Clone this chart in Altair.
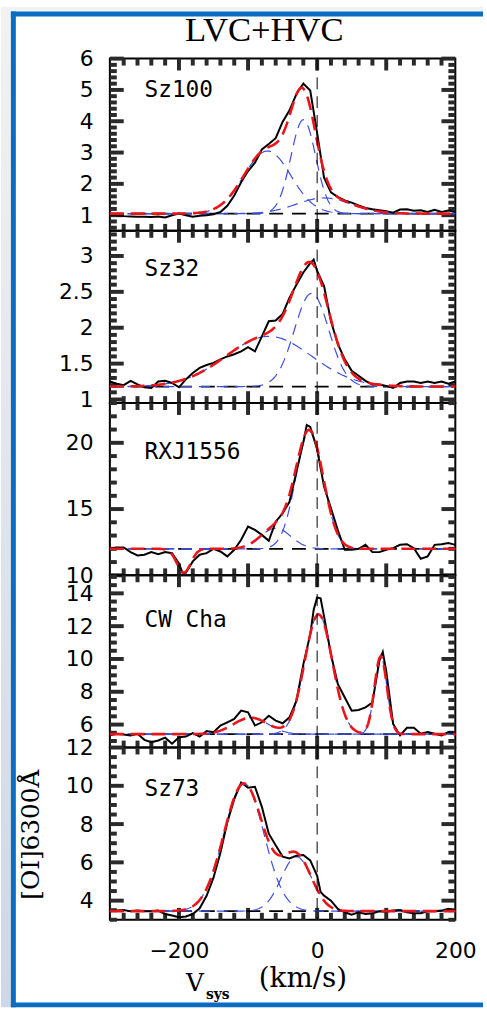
import altair as alt
import numpy as np
import pandas as pd

# ---------------- data ----------------
TITLE = "LVC+HVC"
NAMES = ["Sz100", "Sz32", "RXJ1556", "CW Cha", "Sz73"]
X_TITLE_MAIN = "V"
X_TITLE_SUB = "sys"
X_TITLE_UNIT = "(km/s)"
Y_TITLE = "[OI]6300Å"

X_DOMAIN = [-300, 200]
X_LABELS = [-200, 0, 200]
X_MAJOR = [-200, -100, 0, 100]
X_MINOR = [-280, -260, -240, -220, -180, -160, -140, -120, -80, -60, -40, -20,
           20, 40, 60, 80, 120, 140, 160, 180]

Y_DOMAINS = [[0.5, 6], [0.95, 3.35], [10, 23], [4.6, 15.1], [3, 12]]
Y_MAJOR = [[1, 2, 3, 4, 5, 6], [1, 1.5, 2, 2.5, 3], [10, 15, 20],
           [6, 8, 10, 12, 14], [4, 6, 8, 10, 12]]
Y_MINOR_STEP = [0.2, 0.1, 1, 0.5, 0.5]

SZ100_V = [-300, -290, -280, -270, -260, -250, -240, -230, -220, -210, -200, -190, -180,
           -170, -160, -150, -140, -130, -120, -110, -100, -90, -80, -70, -60, -50, -40,
           -30, -20, -10, 0, 10, 20, 30, 40, 50, 60, 70, 80, 90, 100, 110, 120, 130, 140,
           150, 160, 170, 180, 190, 200]
SZ100_F = [1.03, 1.00, 0.97, 0.96, 0.95, 0.95, 0.94, 0.96, 0.93, 1.00, 1.05, 1.00, 0.95,
           0.98, 1.00, 1.03, 1.10, 1.30, 1.63, 2.05, 2.41, 2.68, 3.10, 3.27, 3.46, 3.98, 4.35,
           4.87, 5.20, 4.98, 3.62, 2.20, 1.73, 1.58, 1.47, 1.40, 1.31, 1.23, 1.19, 1.16, 1.13,
           1.08, 1.18, 1.19, 1.14, 1.16, 1.10, 1.17, 1.10, 1.15, 1.10]

SZ32_V = [-300, -290, -280, -270, -260, -250, -240, -230, -220, -210, -200, -190, -180,
          -170, -160, -150, -140, -130, -120, -110, -100, -90, -80, -70, -60, -50, -40,
          -30, -20, -10, -5, 0, 10, 20, 30, 40, 50, 60, 70, 80, 90, 100, 110, 120, 130, 140,
          150, 160, 170, 180, 190, 200]
SZ32_F = [1.25, 1.22, 1.20, 1.26, 1.21, 1.17, 1.16, 1.25, 1.26, 1.23, 1.17, 1.28, 1.37,
          1.44, 1.48, 1.51, 1.56, 1.60, 1.63, 1.67, 1.73, 1.67, 1.88, 2.09, 2.10, 2.19, 2.42,
          2.60, 2.77, 2.90, 2.95, 2.79, 2.58, 2.09, 1.77, 1.56, 1.40, 1.33, 1.26, 1.21, 1.21,
          1.19, 1.16, 1.23, 1.25, 1.25, 1.23, 1.25, 1.23, 1.25, 1.22, 1.25]

RXJ_V = [-300, -290, -280, -270, -260, -250, -240, -230, -220, -210, -200, -195, -190,
         -180, -170, -160, -150, -140, -130, -120, -110, -100, -90, -80, -70, -60, -50,
         -40, -30, -20, -15, -10, 0, 10, 20, 30, 40, 50, 60, 70, 80, 90, 100, 110, 120, 130,
         140, 150, 160, 170, 180, 190, 200]
RXJ_F = [12.0, 12.1, 12.1, 11.75, 11.5, 11.55, 11.75, 11.6, 11.75, 11.67, 10.9, 10.2, 10.2,
         11.05, 11.55, 11.67, 12.0, 11.8, 11.43, 11.93, 12.68, 13.68, 13.43, 13.05, 12.6,
         14.05, 14.68, 15.55, 17.8, 20.05, 21.35, 21.2, 19.5, 16.7, 15.05, 13.4, 11.93,
         11.93, 12.0, 12.3, 11.75, 11.75, 11.93, 12.05, 12.3, 12.35, 12.05, 11.25, 11.43,
         12.3, 12.35, 12.43, 12.3]

CW_V = [-300, -290, -280, -270, -260, -250, -240, -230, -220, -210, -200, -190, -180,
        -170, -160, -150, -140, -130, -120, -110, -100, -90, -80, -70, -60, -50, -40,
        -30, -20, -10, -5, 0, 5, 10, 20, 30, 40, 50, 60, 70, 80, 90, 95, 100, 110, 120, 130,
        140, 150, 160, 170, 180, 190, 200]
CW_F = [5.34, 5.44, 5.40, 5.34, 5.44, 5.07, 4.93, 5.03, 5.20, 4.83, 5.23, 5.27, 5.48,
        5.27, 5.60, 5.54, 5.94, 6.14, 6.34, 6.85, 6.75, 5.94, 6.14, 6.54, 6.24, 6.08, 6.44,
        7.45, 9.67, 11.5, 13.0, 13.75, 13.7, 12.6, 10.27, 8.46, 7.65, 6.85, 6.89, 7.05, 7.35,
        9.87, 10.43, 9.26, 6.04, 5.34, 5.80, 5.80, 5.44, 5.54, 5.44, 5.34, 5.54, 5.48]

SZ73_V = [-300, -290, -280, -270, -260, -250, -240, -230, -220, -210, -200, -190, -180,
          -170, -160, -150, -140, -130, -120, -110, -100, -90, -80, -70, -60, -50, -40,
          -30, -20, -10, 0, 5, 10, 20, 30, 40, 50, 60, 70, 80, 90, 100, 110, 120, 130, 140,
          150, 160, 170, 180, 190, 200]
SZ73_F = [3.44, 3.48, 3.51, 3.44, 3.48, 3.44, 3.44, 3.48, 3.30, 3.22, 3.13, 3.17, 3.30,
          3.60, 4.25, 5.20, 6.50, 8.10, 9.30, 10.17, 9.90, 9.95, 8.90, 7.50, 6.90, 6.30, 6.20,
          6.35, 6.38, 6.10, 5.30, 4.45, 4.26, 4.00, 3.57, 3.39, 3.27, 3.39, 3.30, 3.34, 3.44,
          3.42, 3.48, 3.51, 3.39, 3.34, 3.34, 3.44, 3.44, 3.48, 3.57, 3.48]

SPEC_V = [SZ100_V, SZ32_V, RXJ_V, CW_V, SZ73_V]
SPEC_F = [SZ100_F, SZ32_F, RXJ_F, CW_F, SZ73_F]

# Gaussian fit components: (centre, amplitude, sigma)
CONTINUUM = [1.05, 1.18, 12.0, 5.42, 3.45]
COMPONENTS = [
    [(-72, 2.0, 34), (-20, 3.0, 18), (10, 0.5, 40)],
    [(-70, 0.7, 62), (-8, 1.3, 25)],
    [(-11, 8.85, 20), (-60, 1.55, 22)],
    [(2, 7.3, 20), (92, 4.75, 9), (-96, 1.0, 25)],
    [(-106, 6.67, 29), (-30, 2.85, 22)],
]
ABSORPTION = [[], [], [(-193, -1.8, 10)], [], []]

# ---------------- styling ----------------
W, H = 349, 174
RED = "#e8161b"
BLUE = "#3c4fe0"
FRAME_BLUE = "#0b6cc4"
TICK_COLOR = "#2a2a2a"
NAME_Y = [31.5, 39, 49, 45, 42]
LABEL_FONT = "DejaVu Sans"
X_TICK_LEN = (12, 7)   # px, major / minor
Y_TICK_LEN = (14, 7)

VF = np.arange(-300, 201, 2)


def gauss(v, c, a, s):
    return a * np.exp(-0.5 * ((v - c) / s) ** 2)


def minor_ticks(dom, step, majors):
    start = np.ceil(dom[0] / step - 1e-9) * step
    vals = np.arange(start, dom[1] + 1e-9, step)
    out = []
    for v in vals:
        v = round(float(v), 4)
        if all(abs(v - m) > 1e-6 for m in majors):
            out.append(v)
    return out


def tick_segments(i):
    """Inward tick segments on all four sides, as (x, y, id) rows in data units."""
    y0, y1 = Y_DOMAINS[i]
    x0, x1 = X_DOMAIN
    ypp = (y1 - y0) / H   # data units per pixel
    xpp = (x1 - x0) / W
    rows = []
    n = 0
    for vals, L in [(X_MAJOR, X_TICK_LEN[0]), (X_MINOR, X_TICK_LEN[1])]:
        for t in vals:
            rows += [(float(t), float(y1), n), (float(t), float(y1 - L * ypp), n)]
            n += 1
            rows += [(float(t), float(y0), n), (float(t), float(y0 + L * ypp), n)]
            n += 1
    ymin = minor_ticks(Y_DOMAINS[i], Y_MINOR_STEP[i], Y_MAJOR[i])
    for vals, L in [(Y_MAJOR[i], Y_TICK_LEN[0]), (ymin, Y_TICK_LEN[1])]:
        for t in vals:
            rows += [(float(x0), float(t), n), (float(x0 + L * xpp), float(t), n)]
            n += 1
            rows += [(float(x1), float(t), n), (float(x1 - L * xpp), float(t), n)]
            n += 1
    return pd.DataFrame(rows, columns=["tx", "ty", "tid"])


def make_panel(i):
    first = i == 0
    last = i == 4
    xs = alt.Scale(domain=X_DOMAIN, nice=False, zero=False)
    ys = alt.Scale(domain=Y_DOMAINS[i], nice=False, zero=False)
    if last:
        xaxis = alt.Axis(values=X_LABELS, ticks=False, domain=False, grid=False,
                         labelFlush=False, labelFont=LABEL_FONT, labelFontSize=22,
                         labelPadding=21, labelColor="black", title=None)
    else:
        xaxis = None
    yaxis = alt.Axis(values=Y_MAJOR[i], format="~g", ticks=False, domain=False, grid=False,
                     labelFont=LABEL_FONT, labelFontSize=22, labelPadding=17,
                     labelColor="black", title=None)

    def X(f):
        return alt.X(f"{f}:Q", scale=xs, axis=xaxis)

    def Y(f):
        return alt.Y(f"{f}:Q", scale=ys, axis=yaxis)

    cont = CONTINUUM[i]
    obs = pd.DataFrame({"v": SPEC_V[i], "f": SPEC_F[i]})
    total = np.full(VF.shape, cont, dtype=float)
    rows = []
    for k, (c, a, s) in enumerate(COMPONENTS[i]):
        g = gauss(VF, c, a, s)
        total = total + g
        rows.append(pd.DataFrame({"v": VF, "f": cont + g, "k": k}))
    for (c, a, s) in ABSORPTION[i]:
        total = total + gauss(VF, c, a, s)
    comp_df = pd.concat(rows, ignore_index=True)
    tot_df = pd.DataFrame({"v": VF, "f": total})
    cont_df = pd.DataFrame({"v": X_DOMAIN, "f": [cont, cont]})
    zero_df = pd.DataFrame({"v": [0]})
    one = pd.DataFrame({"a": [0]})

    layers = []
    if first:
        grad = alt.LinearGradient(gradient="linear",
                                  stops=[alt.GradientStop(color="#f2f2f2", offset=0),
                                         alt.GradientStop(color="#cdd7e6", offset=1)],
                                  x1=0, x2=0, y1=0, y2=1)
        layers += [
            alt.Chart(one).mark_rect(fill=grad).encode(
                x=alt.value(-110), x2=alt.value(-100), y=alt.value(-52.5), y2=alt.value(958.5)),
            alt.Chart(one).mark_rect(fill="#f2f2f2").encode(
                x=alt.value(-110), x2=alt.value(377), y=alt.value(-52.5), y2=alt.value(-47.5)),
            alt.Chart(one).mark_rule(color=FRAME_BLUE, strokeWidth=5).encode(
                x=alt.value(-97.5), y=alt.value(-47.5), y2=alt.value(958.5)),
            alt.Chart(one).mark_rule(color=FRAME_BLUE, strokeWidth=5).encode(
                x=alt.value(-100), x2=alt.value(377), y=alt.value(-45)),
            alt.Chart(one).mark_rule(color=FRAME_BLUE, strokeWidth=5).encode(
                x=alt.value(-100), x2=alt.value(377), y=alt.value(956)),
            alt.Chart(pd.DataFrame({"ttl": [TITLE]})).mark_text(
                align="center", baseline="middle", font="Liberation Serif", fontSize=35,
                color="black").encode(x=alt.value(156), y=alt.value(-29), text="ttl:N"),
        ]

    layers += [
        alt.Chart(tick_segments(i)).mark_line(color=TICK_COLOR, strokeWidth=4).encode(
            x=X("tx"), y=Y("ty"), detail="tid:N"),
        alt.Chart(cont_df).mark_line(color="black", strokeDash=[14, 9], strokeWidth=1.8).encode(
            x=X("v"), y=Y("f")),
        alt.Chart(comp_df).mark_line(color=BLUE, strokeDash=[11, 7], strokeWidth=1.2).encode(
            x=X("v"), y=Y("f"), detail="k:N"),
        alt.Chart(obs).mark_line(color="black", strokeWidth=2).encode(x=X("v"), y=Y("f")),
        alt.Chart(tot_df).mark_line(color=RED, strokeDash=[14, 7], strokeWidth=2.6).encode(
            x=X("v"), y=Y("f")),
        alt.Chart(zero_df).mark_rule(color="black", strokeDash=[12, 7], strokeWidth=1).encode(
            x=X("v")),
    ]

    layers.append(alt.Chart(pd.DataFrame({"name": [NAMES[i]]})).mark_text(
        align="left", baseline="middle", font="DejaVu Sans Mono", fontSize=23,
        color="black").encode(x=alt.value(35), y=alt.value(NAME_Y[i]), text="name:N"))

    if last:
        layers += [
            alt.Chart(pd.DataFrame({"ttl": [X_TITLE_MAIN]})).mark_text(
                align="center", baseline="alphabetic", font="DejaVu Serif", fontSize=25,
                color="black").encode(x=alt.value(86), y=alt.value(246), text="ttl:N"),
            alt.Chart(pd.DataFrame({"ttl": [X_TITLE_SUB]})).mark_text(
                align="left", baseline="alphabetic", font="DejaVu Serif", fontSize=14,
                fontWeight="bold", color="black").encode(
                x=alt.value(97), y=alt.value(254), text="ttl:N"),
            alt.Chart(pd.DataFrame({"ttl": [X_TITLE_UNIT]})).mark_text(
                align="center", baseline="alphabetic", font="DejaVu Serif", fontSize=28,
                color="black").encode(x=alt.value(195), y=alt.value(242), text="ttl:N"),
            alt.Chart(pd.DataFrame({"ttl": [Y_TITLE]})).mark_text(
                align="center", baseline="middle", font="DejaVu Serif", fontSize=25,
                angle=270, color="black").encode(x=alt.value(-80), y=alt.value(88), text="ttl:N"),
        ]

    return alt.layer(*layers).properties(width=W, height=H)


chart = alt.vconcat(*[make_panel(i) for i in range(5)], spacing=0, bounds="flush").properties(
    padding=0, background="white"
).configure_view(stroke="black", strokeWidth=2)

chart.save("out.html", embed_options={"renderer": "svg", "actions": False})
